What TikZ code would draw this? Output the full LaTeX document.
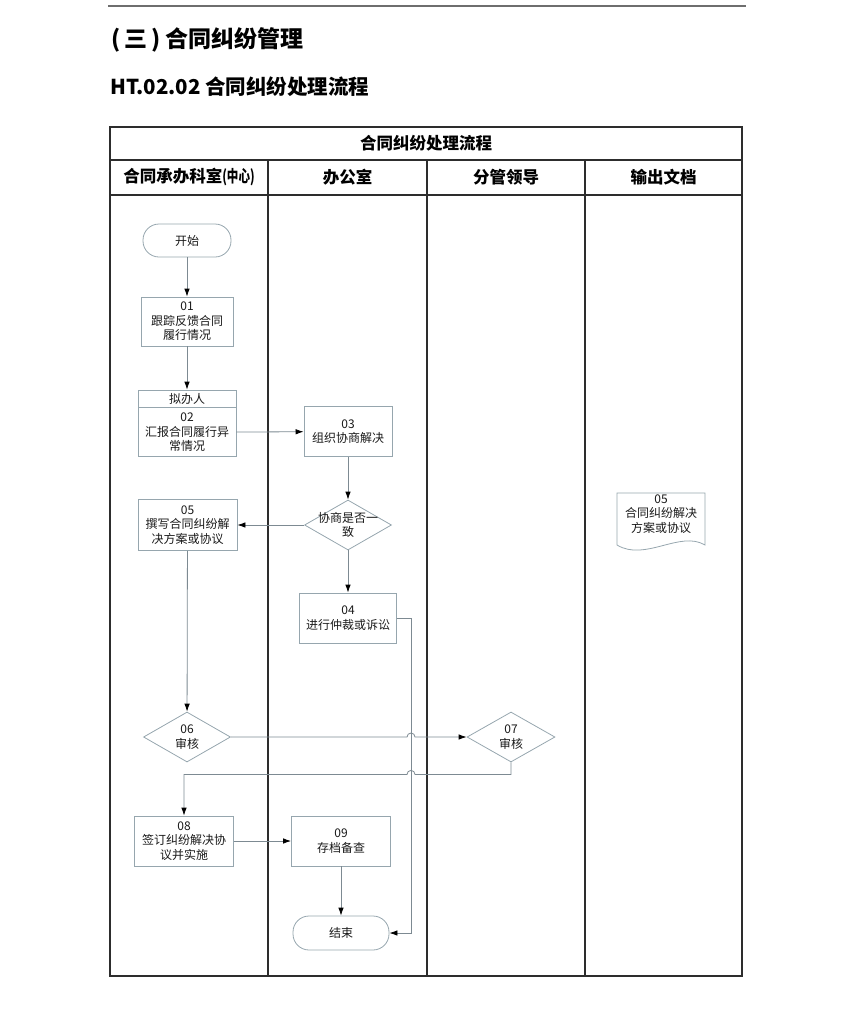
\documentclass[tikz,border=0pt]{standalone}
\usepackage{fontspec}
\setmainfont{Noto Sans CJK SC}
\usetikzlibrary{shapes.geometric,arrows.meta,calc,positioning}
\definecolor{boxLine}{RGB}{150,166,174}
\definecolor{flowGray}{RGB}{125,138,146}
\definecolor{tableGray}{RGB}{45,45,45}
\definecolor{ruleGray}{RGB}{110,110,110}

\begin{document}
\begin{tikzpicture}[x=1pt,y=-1pt,
  boxText/.style={font=\fontsize{12}{14.5}\selectfont,align=center,text=black!90},
  procBox/.style={draw=boxLine,line width=0.8pt,boxText,minimum width=97pt,minimum height=50pt,inner sep=1pt},
  termBox/.style={draw=boxLine,line width=0.8pt,boxText,rounded corners=16pt,minimum width=90pt,minimum height=33pt},
  decBox/.style={draw=boxLine,line width=0.8pt,diamond,minimum width=88pt,minimum height=50pt,inner sep=0pt},
  flowLine/.style={draw=flowGray,line width=0.8pt},
  flowArrow/.style={flowLine,-{Latex[length=8pt,width=5.5pt,color=black]}},
  tableLine/.style={draw=tableGray,line width=1.1pt},
  laneHead/.style={font=\bfseries\fontsize{16.5}{18}\selectfont}]

\useasboundingbox (0,0) rectangle (860,1021);
\def\hop{4}

% page head
\draw[ruleGray,line width=1.6pt] (108,6) -- (746,6);
\node[anchor=west,inner sep=0pt,font=\bfseries\fontsize{23}{25}\selectfont] (title) at (111,40) {(\hspace{4pt}三\hspace{4pt})\hspace{5pt}合同纠纷管理};
\node[anchor=west,inner sep=0pt,font=\bfseries\fontsize{20.5}{23}\selectfont] (subTitle) at (110,87) {HT.02.02 合同纠纷处理流程};

% draw the table and the lanes
\draw[tableLine] (110,127) rectangle (742,976);
\draw[tableLine] (110,160) -- (742,160);
\draw[tableLine] (110,195) -- (742,195);
\foreach \x in {268,427,585}
\draw[tableLine] (\x,160) -- (\x,976);
\node[laneHead] (chartTitle) at (426,143.5) {合同纠纷处理流程};
\def\laneNames{189/{合同承办科室\scalebox{0.7}[1]{(中心)}},347.5/办公室,506/分管领导,663.5/输出文档}
\foreach \cx/\lname [count=\ni] in \laneNames
\node[laneHead] (lane\ni) at (\cx,177.5) {\lname};

% the steps
\node[termBox,minimum width=88pt] (start) at (187,240.5) {开始};
\node[procBox,minimum width=92pt,minimum height=49pt] (track) at (187,321.5) {01\\跟踪反馈合同\\履行情况};
\node[procBox,minimum width=98pt,minimum height=17pt,inner sep=0pt] (reportRole) at (187,398.5) {拟办人};
\node[procBox,minimum width=98pt,minimum height=49pt,below=0pt of reportRole] (report) {02\\汇报合同履行异\\常情况};
\node[procBox,minimum width=88pt] (negotiate) at (348,431.5) {03\\组织协商解决};
\node[decBox,minimum width=87pt,label={[boxText]center:协商是否一\\致}] (agree) at (348,525) {};
\node[procBox,minimum width=99pt,minimum height=51pt] (draft) at (187.5,525) {05\\撰写合同纠纷解\\决方案或协议};
\node[procBox] (arbitrate) at (348,618) {04\\进行仲裁或诉讼};
\node[decBox,minimum width=87pt,label={[boxText]center:06\\审核}] (review) at (187,737) {};
\node[decBox,label={[boxText]center:07\\审核}] (approve) at (511,737) {};
\node[procBox,minimum width=99pt] (sign) at (184,841) {08\\签订纠纷解决协\\议并实施};
\node[procBox,minimum width=99pt] (archive) at (341,841) {09\\存档备查};
\node[termBox,minimum width=96pt,minimum height=34pt] (finish) at (341,933) {结束};

% output document
\node[boxText] (outDoc) at (661,514) {05\\合同纠纷解决\\方案或协议};
\draw[boxLine,line width=0.8pt] (617,545) -- (617,493) -- (705,493) -- (705,545)
  .. controls (680,530) and (645,562) .. (617,545) -- cycle;

% the connectors
\coordinate (bypass) at (411,617);
\coordinate (turn) at ($(approve.south)+(0,12)$);
\draw[flowArrow] (start) -- (track);
\draw[flowArrow] (track) -- (reportRole);
\draw[flowArrow] (report) -- (negotiate);
\draw[flowArrow] (negotiate) -- (agree);
\draw[flowArrow] (agree) -- (draft);
\draw[flowArrow] (agree) -- (arbitrate);
\draw[flowArrow] (draft) -- (review);
\draw[flowArrow] (review.east) -- ($(review.east -| bypass)+(-\hop,0)$)
  arc[start angle=180,end angle=360,radius=\hop] -- (approve.west);
\draw[flowArrow] (approve.south) -- (turn) -- ($(turn -| bypass)+(\hop,0)$)
  arc[start angle=0,end angle=-180,radius=\hop] -- (turn -| sign.north) -- (sign.north);
\draw[flowArrow] (sign) -- (archive);
\draw[flowArrow] (archive) -- (finish);
\draw[flowArrow] (arbitrate.east) -- (arbitrate.east -| bypass) -- (bypass |- finish.east) -- (finish.east);

\end{tikzpicture}
\end{document}
